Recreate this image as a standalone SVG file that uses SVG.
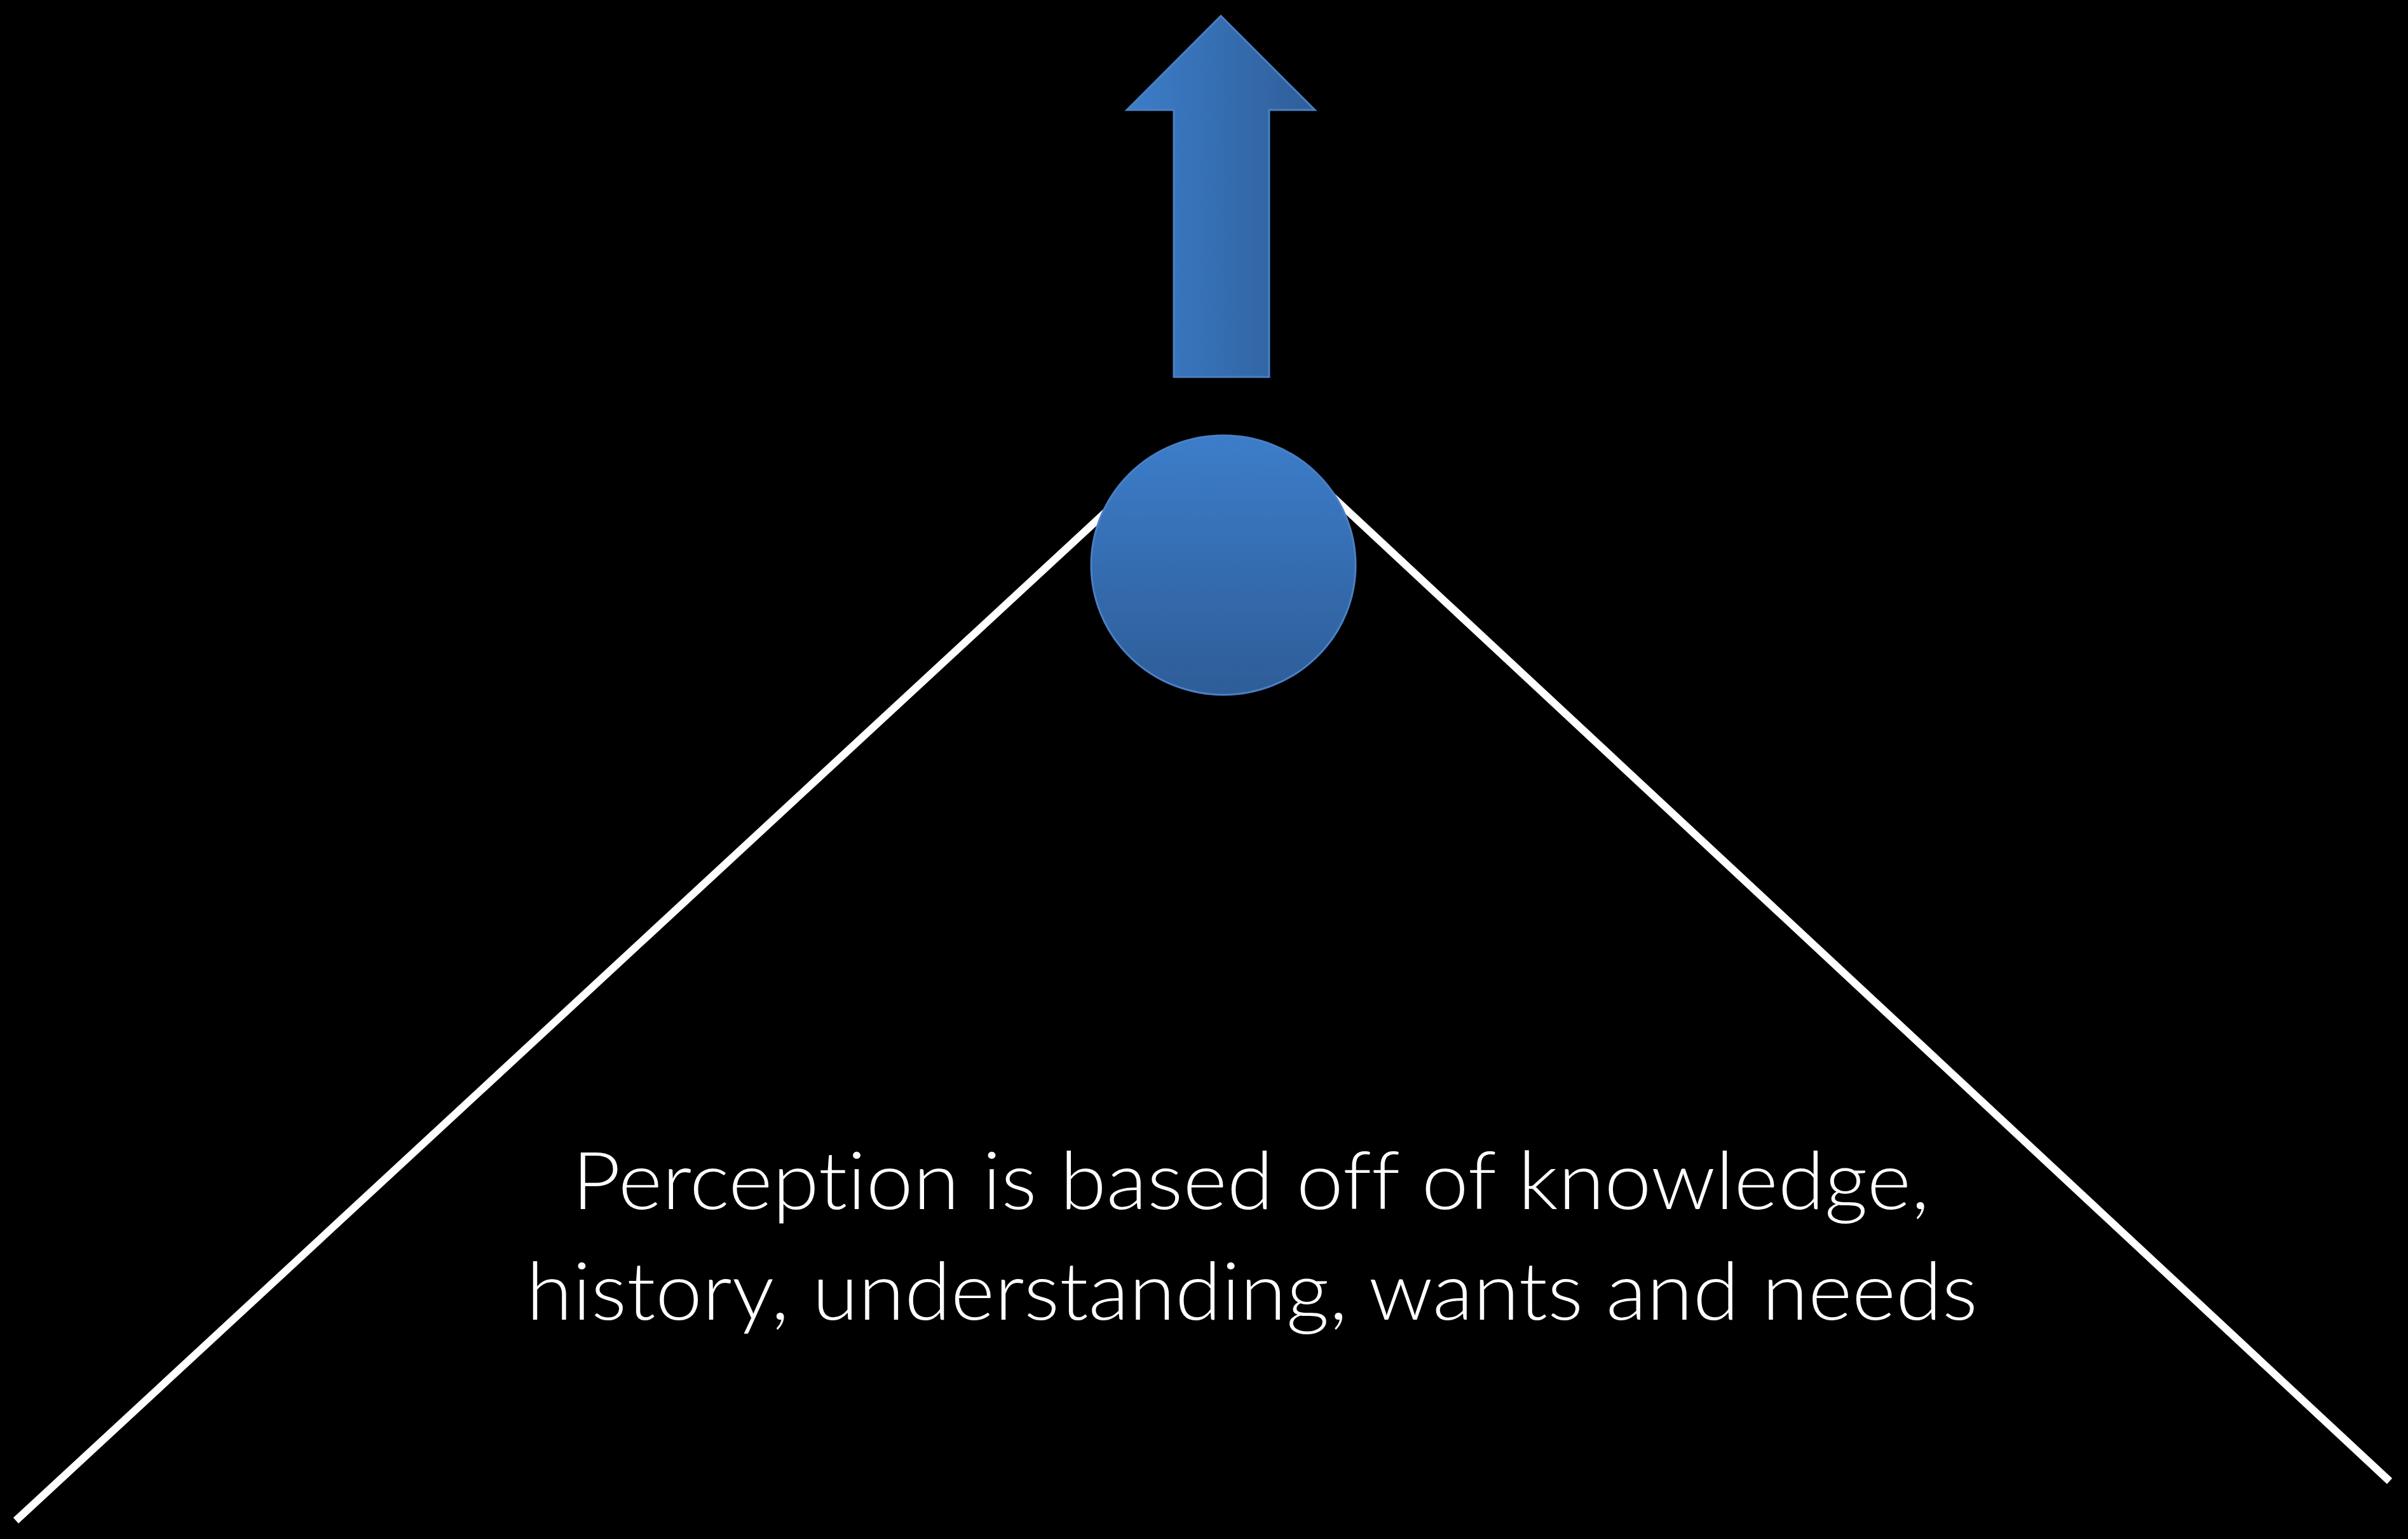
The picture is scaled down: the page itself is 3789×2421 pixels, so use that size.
<svg xmlns="http://www.w3.org/2000/svg" width="3789" height="2421" viewBox="0 0 3789 2421">
  <defs>
    <linearGradient id="arrowGrad" x1="0" y1="0" x2="1" y2="0">
      <stop offset="0" stop-color="#3C7DC9"/>
      <stop offset="1" stop-color="#2F5E99"/>
    </linearGradient>
    <linearGradient id="circleGrad" x1="0" y1="0" x2="0" y2="1">
      <stop offset="0" stop-color="#3C7DCA"/>
      <stop offset="1" stop-color="#2E5D98"/>
    </linearGradient>
    <style>
      .line { stroke: #FFFFFF; stroke-width: 12; fill: none; stroke-linecap: butt; }
      .shape { stroke: #4A80C4; stroke-width: 3; stroke-linejoin: miter; }
      .label { font-family: Lato, "Liberation Sans", sans-serif; font-weight: 300; font-size: 127px; fill: #FFFFFF; text-anchor: middle; font-variant-ligatures: none; font-feature-settings: "liga" 0; }
    </style>
  </defs>
  <rect x="0" y="0" width="3789" height="2421" fill="#000000"/>
  <g id="connectors">
    <line class="line" x1="25" y1="2392" x2="1800" y2="750"/>
    <line class="line" x1="3760" y1="2330" x2="2050" y2="738"/>
  </g>
  <g id="arrow">
    <polygon class="shape" fill="url(#arrowGrad)" points="1921,25 2069,173 1997,173 1997,593 1847,593 1847,173 1773,173"/>
  </g>
  <g id="circle">
    <ellipse class="shape" fill="url(#circleGrad)" cx="1925" cy="889" rx="208" ry="204"/>
  </g>
  <g id="caption">
    <text class="label" x="1968" y="1902" textLength="2136" lengthAdjust="spacingAndGlyphs">Perception is based off of knowledge,</text>
    <text class="label" x="1970" y="2076" textLength="2284" lengthAdjust="spacingAndGlyphs">history, understanding, wants and needs</text>
  </g>
</svg>
